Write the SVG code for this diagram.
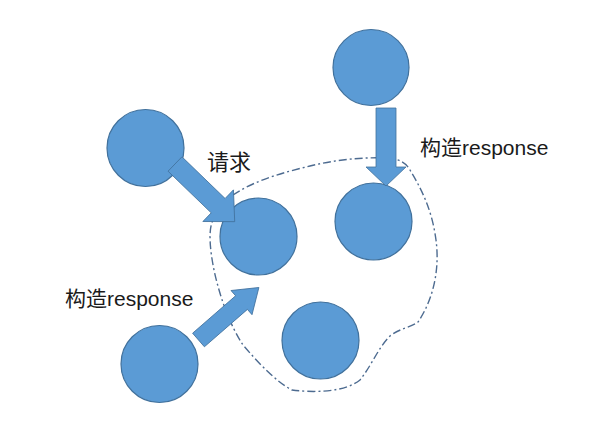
<svg xmlns="http://www.w3.org/2000/svg" width="600" height="434" viewBox="0 0 600 434">
<style>
.node{fill:#5B9BD5;stroke:#41719C;stroke-width:1.2}
.arrow{fill:#5B9BD5;stroke:#41719C;stroke-width:0.8}
.bound{fill:none;stroke:#4D6B90;stroke-width:1.4;stroke-dasharray:8 3 2 3}
.lbl{font-family:"Liberation Sans","Noto Sans CJK SC",sans-serif;fill:#1a1a1a}
</style>
<rect width="600" height="434" fill="#ffffff"/>
<path class="bound" d="M233,195 C255,180 285,172 310,166 C335,160 360,157 387,158 C400,159 406,163 410,170 C422,190 432,210 436,240 C440,270 433,300 418,322 C410,328 400,328 390,336 C378,348 372,365 360,380 C345,392 315,393 292,390 C278,383 260,365 243,345 C230,325 220,298 214,270 C210,250 208,230 213,220 C218,208 226,200 233,195 Z"/>
<g id="n1"><circle class="node" cx="145.5" cy="148" r="38.5"/></g>
<g id="n2"><circle class="node" cx="258.5" cy="236.5" r="38.5"/></g>
<g id="n3"><circle class="node" cx="371" cy="67.5" r="38"/></g>
<g id="n4"><circle class="node" cx="373.5" cy="221.5" r="38.5"/></g>
<g id="n5"><circle class="node" cx="320.5" cy="340.5" r="38.5"/></g>
<g id="n6"><circle class="node" cx="159.5" cy="364" r="38.5"/></g>
<g id="connectors">
<polygon class="arrow" transform="translate(175,164) rotate(44)" points="0,-10 60,-10 60,-22 83,0 60,22 60,10 0,10"/>
<polygon class="arrow" points="376,108 396,108 396,167 406,167 386,186 366,167 376,167"/>
<polygon class="arrow" transform="translate(198.5,340) rotate(-41)" points="0,-9 57,-9 57,-16 80,0 57,16 57,9 0,9"/>
</g>
<text class="lbl" x="207" y="170" font-size="22">请求</text>
<text class="lbl" x="420" y="155" font-size="21">构造response</text>
<text class="lbl" x="65" y="306" font-size="21">构造response</text>
</svg>
